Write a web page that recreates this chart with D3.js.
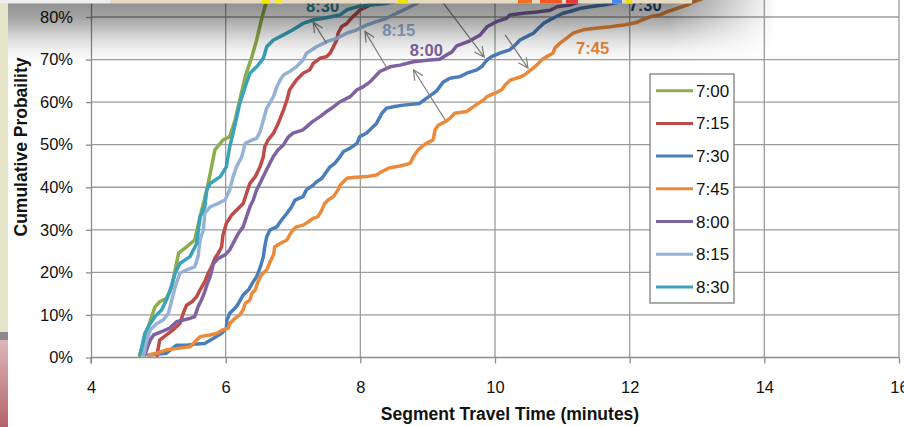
<!DOCTYPE html>
<html>
<head>
<meta charset="utf-8">
<script src="https://cdn.jsdelivr.net/npm/d3@7"></script>
<style>
  body { margin: 0; background: #fff; }
  svg { display: block; font-family: "Liberation Sans", Arial, sans-serif; }
</style>
</head>
<body>
<svg id="chart" width="904" height="427"></svg>
<script>
// series names and colours
const seriesNames = ["7:00", "7:15", "7:30", "7:45", "8:00", "8:15", "8:30"];
const seriesColors = ["#8DAE4C", "#BE4B48", "#4A7EBB", "#EC8A3C", "#7E62A1", "#95B3D7", "#3AA2BB"];

// [travel time (min), cumulative probability]
const t700 = [[4.72,0.005],[4.85,0.072],[4.95,0.119],[5.02,0.131],[5.12,0.139],[5.20,0.166],[5.30,0.245],
  [5.42,0.260],[5.54,0.276],[5.62,0.331],[5.72,0.394],[5.79,0.448],[5.84,0.488],[5.96,0.511],[6.06,0.519],
  [6.14,0.558],[6.21,0.605],[6.29,0.660],[6.39,0.707],[6.46,0.746],[6.53,0.793],[6.61,0.840],[6.75,0.90],
  [7.0,0.95],[7.5,1.0]];
const t715 = [[4.98,0.005],[5.02,0.041],[5.12,0.053],[5.22,0.065],[5.32,0.080],[5.37,0.104],[5.42,0.123],
  [5.50,0.131],[5.57,0.143],[5.62,0.159],[5.69,0.178],[5.74,0.198],[5.79,0.213],[5.84,0.233],[5.89,0.245],
  [5.94,0.260],[5.96,0.288],[6.01,0.315],[6.09,0.335],[6.16,0.346],[6.26,0.362],[6.31,0.386],[6.36,0.409],
  [6.44,0.425],[6.51,0.448],[6.56,0.472],[6.58,0.495],[6.63,0.511],[6.71,0.527],[6.78,0.550],[6.86,0.582],
  [6.91,0.605],[6.95,0.629],[7.05,0.652],[7.15,0.668],[7.25,0.676],[7.30,0.691],[7.40,0.703],[7.50,0.707],
  [7.55,0.715],[7.60,0.730],[7.65,0.746],[7.67,0.762],[7.72,0.777],[7.80,0.785],[7.89,0.801],[7.95,0.809],
  [7.99,0.816],[8.04,0.820],[8.14,0.828],[8.24,0.832],[8.35,0.845],[8.8,0.90],[9.5,0.95],[11,1.0]];
const t730 = [[4.85,0.006],[5.12,0.010],[5.27,0.029],[5.42,0.029],[5.57,0.032],[5.69,0.033],[5.82,0.045],
  [5.94,0.057],[6.01,0.069],[6.02,0.088],[6.06,0.104],[6.14,0.116],[6.19,0.127],[6.26,0.147],[6.34,0.159],
  [6.41,0.178],[6.46,0.190],[6.51,0.210],[6.56,0.237],[6.58,0.260],[6.61,0.284],[6.66,0.300],[6.76,0.307],
  [6.83,0.323],[6.91,0.339],[6.98,0.354],[7.03,0.370],[7.15,0.378],[7.20,0.394],[7.30,0.405],[7.35,0.413],
  [7.43,0.421],[7.50,0.437],[7.55,0.448],[7.62,0.456],[7.70,0.472],[7.75,0.484],[7.85,0.492],[7.95,0.503],
  [7.99,0.519],[8.09,0.527],[8.17,0.539],[8.24,0.550],[8.32,0.574],[8.39,0.586],[8.49,0.589],[8.64,0.593],
  [8.88,0.597],[8.98,0.609],[9.13,0.626],[9.23,0.647],[9.33,0.656],[9.48,0.660],[9.58,0.668],[9.73,0.676],
  [9.80,0.683],[9.88,0.699],[9.95,0.707],[10.07,0.715],[10.22,0.723],[10.30,0.734],[10.37,0.746],
  [10.47,0.754],[10.57,0.762],[10.64,0.773],[10.72,0.785],[10.86,0.797],[11.01,0.809],[11.11,0.813],
  [11.26,0.820],[11.41,0.824],[11.61,0.828],[11.81,0.834],[12.1,0.85],[13,0.90],[14,0.95],[15.5,1.0]];
const t745 = [[4.85,0.006],[4.98,0.010],[5.12,0.018],[5.32,0.022],[5.47,0.025],[5.57,0.041],[5.62,0.049],
  [5.77,0.053],[5.87,0.057],[5.96,0.065],[6.04,0.069],[6.06,0.080],[6.14,0.092],[6.21,0.100],[6.26,0.112],
  [6.29,0.127],[6.36,0.135],[6.39,0.151],[6.44,0.159],[6.48,0.178],[6.53,0.194],[6.61,0.206],[6.66,0.225],
  [6.71,0.241],[6.73,0.260],[6.81,0.268],[6.91,0.276],[6.95,0.288],[7.00,0.300],[7.05,0.307],[7.15,0.311],
  [7.23,0.319],[7.30,0.327],[7.37,0.331],[7.43,0.347],[7.47,0.362],[7.52,0.370],[7.60,0.378],[7.67,0.394],
  [7.70,0.405],[7.80,0.421],[7.89,0.423],[8.09,0.425],[8.24,0.429],[8.32,0.437],[8.44,0.446],[8.59,0.450],
  [8.74,0.456],[8.79,0.472],[8.86,0.488],[8.91,0.495],[8.98,0.503],[9.08,0.511],[9.11,0.535],[9.16,0.546],
  [9.26,0.554],[9.33,0.562],[9.40,0.574],[9.58,0.578],[9.65,0.586],[9.75,0.597],[9.83,0.605],[9.88,0.613],
  [10.00,0.621],[10.10,0.629],[10.15,0.640],[10.22,0.651],[10.37,0.659],[10.44,0.664],[10.52,0.674],
  [10.62,0.687],[10.69,0.699],[10.77,0.707],[10.86,0.715],[10.89,0.727],[10.96,0.738],[11.06,0.750],
  [11.16,0.762],[11.31,0.770],[11.46,0.773],[11.71,0.777],[11.91,0.781],[12.10,0.787],[12.18,0.793],
  [12.31,0.801],[12.45,0.805],[12.55,0.812],[12.70,0.820],[12.85,0.828],[12.95,0.836],[13.2,0.85],
  [14,0.90],[15,0.95],[16,0.98]];
const t800 = [[4.80,0.006],[4.85,0.029],[4.88,0.041],[4.93,0.053],[5.05,0.061],[5.17,0.069],[5.27,0.084],
  [5.37,0.088],[5.47,0.092],[5.54,0.096],[5.59,0.119],[5.64,0.135],[5.69,0.155],[5.72,0.170],[5.77,0.190],
  [5.82,0.221],[5.89,0.233],[5.99,0.241],[6.06,0.253],[6.11,0.268],[6.19,0.292],[6.26,0.307],[6.31,0.331],
  [6.36,0.354],[6.41,0.370],[6.46,0.394],[6.51,0.409],[6.56,0.426],[6.63,0.448],[6.71,0.473],[6.78,0.488],
  [6.86,0.500],[6.93,0.518],[7.00,0.527],[7.15,0.535],[7.20,0.542],[7.28,0.553],[7.40,0.566],[7.50,0.578],
  [7.60,0.589],[7.70,0.601],[7.85,0.613],[7.95,0.629],[8.04,0.636],[8.14,0.647],[8.29,0.672],[8.44,0.683],
  [8.59,0.687],[8.79,0.695],[9.03,0.699],[9.18,0.701],[9.28,0.711],[9.36,0.718],[9.43,0.732],[9.63,0.744],
  [9.78,0.758],[9.88,0.777],[10.02,0.789],[10.17,0.797],[10.22,0.805],[10.42,0.809],[10.62,0.812],
  [10.82,0.816],[10.92,0.824],[11.11,0.828],[11.26,0.836],[11.5,0.85],[12.5,0.90],[13.5,0.95],[15,1.0]];
const t815 = [[4.78,0.005],[4.83,0.041],[4.88,0.065],[4.98,0.080],[5.07,0.088],[5.15,0.104],[5.20,0.135],
  [5.25,0.166],[5.32,0.198],[5.42,0.206],[5.54,0.213],[5.59,0.237],[5.62,0.276],[5.67,0.300],[5.69,0.339],
  [5.77,0.354],[5.89,0.362],[5.99,0.370],[6.06,0.394],[6.11,0.425],[6.16,0.448],[6.24,0.472],[6.29,0.503],
  [6.39,0.511],[6.46,0.515],[6.51,0.530],[6.56,0.558],[6.61,0.586],[6.71,0.613],[6.76,0.636],[6.81,0.652],
  [6.86,0.664],[6.95,0.672],[7.05,0.683],[7.15,0.699],[7.20,0.715],[7.35,0.730],[7.50,0.742],[7.65,0.750],
  [7.80,0.762],[7.95,0.770],[8.09,0.781],[8.24,0.789],[8.39,0.797],[8.54,0.809],[8.69,0.820],[8.84,0.832],
  [8.95,0.845],[9.5,0.90],[10.5,0.95],[12,1.0]];
const t830 = [[4.73,0.006],[4.80,0.057],[4.85,0.072],[4.95,0.096],[5.05,0.112],[5.12,0.135],[5.17,0.155],
  [5.25,0.198],[5.32,0.221],[5.47,0.237],[5.57,0.268],[5.62,0.331],[5.69,0.354],[5.72,0.394],[5.77,0.409],
  [5.92,0.425],[6.01,0.448],[6.06,0.495],[6.11,0.527],[6.21,0.597],[6.29,0.636],[6.36,0.668],[6.46,0.683],
  [6.56,0.703],[6.61,0.730],[6.71,0.746],[6.86,0.758],[7.00,0.770],[7.15,0.785],[7.30,0.793],[7.55,0.800],
  [7.70,0.805],[7.80,0.817],[7.95,0.824],[8.14,0.828],[8.39,0.832],[8.8,0.845],[9.5,0.90],[11,0.95],[13,1.0]];
const seriesData = [t700, t715, t730, t745, t800, t815, t830];

const xTicks = [4, 6, 8, 10, 12, 14, 16];
const yTicks = [0, 0.1, 0.2, 0.3, 0.4, 0.5, 0.6, 0.7, 0.8];
const yGrid = [0.1, 0.2, 0.3, 0.4, 0.5, 0.6, 0.7, 0.8, 0.9, 1.0];

// callout labels and arrows (data units)
const labelText = ["8:30", "8:15", "8:00", "7:45", "7:30"];
const labelAt = [[7.44, 0.812], [8.57, 0.755], [8.98, 0.708], [11.45, 0.713], [12.23, 0.814]];
const labelColors = ["#31849B", "#95B3D7", "#7E62A1", "#EC8A3C", "#1F497D"];
const arrowFrom = [[7.50, 0.738], [8.41, 0.676], [9.26, 0.558], [9.14, 0.852], [10.15, 0.758]];
const arrowTo = [[7.30, 0.788], [8.07, 0.766], [8.79, 0.676], [9.84, 0.706], [10.49, 0.680]];

const svg = d3.select("#chart");
const x = d3.scaleLinear().domain([4, 16]).range([91, 899]);
const y = d3.scaleLinear().domain([0, 1]).range([357.5, -68.1]);

const defs = svg.append("defs");
const vg = defs.append("linearGradient").attr("id", "shade").attr("x1", 0).attr("y1", 0).attr("x2", 0).attr("y2", 1);
[[0, 0.45], [0.3, 0.35], [0.5, 0.22], [0.65, 0.13], [0.8, 0.06], [1, 0]].forEach(s =>
  vg.append("stop").attr("offset", s[0]).attr("stop-color", "#000").attr("stop-opacity", s[1]));
const hg = defs.append("linearGradient").attr("id", "fadeX").attr("x1", 0).attr("y1", 0).attr("x2", 1).attr("y2", 0);
hg.append("stop").attr("offset", 0.74).attr("stop-color", "#fff");
hg.append("stop").attr("offset", 0.86).attr("stop-color", "#000");
defs.append("mask").attr("id", "fadeMask").attr("maskUnits", "userSpaceOnUse")
  .attr("x", 0).attr("y", 0).attr("width", 904).attr("height", 70)
  .append("rect").attr("width", 904).attr("height", 70).attr("fill", "url(#fadeX)");
const pg = defs.append("linearGradient").attr("id", "pink").attr("x1", 0).attr("y1", 0).attr("x2", 0).attr("y2", 1);
pg.append("stop").attr("offset", 0).attr("stop-color", "#dcb8ba");
pg.append("stop").attr("offset", 1).attr("stop-color", "#b4626a");

// gridlines
svg.append("g").selectAll("line").data(yGrid).join("line")
  .attr("x1", x(4)).attr("x2", x(16)).attr("y1", d => y(d)).attr("y2", d => y(d))
  .attr("stroke", "#9c9c9c").attr("stroke-width", 1.3);
svg.append("g").selectAll("line").data(xTicks.slice(1)).join("line")
  .attr("x1", d => x(d)).attr("x2", d => x(d)).attr("y1", y(1)).attr("y2", y(0))
  .attr("stroke", "#9c9c9c").attr("stroke-width", 1.3);

// axes
const yAxis = svg.append("g").attr("transform", `translate(${x(4)},0)`)
  .call(d3.axisLeft(y).tickValues(yTicks).tickFormat(d3.format(".0%")).tickSize(5).tickSizeOuter(0).tickPadding(13));
const xAxis = svg.append("g").attr("transform", `translate(0,${y(0)})`)
  .call(d3.axisBottom(x).tickValues(xTicks).tickSize(6).tickSizeOuter(0).tickPadding(18));
[yAxis, xAxis].forEach(a => {
  a.select(".domain").attr("stroke", "#8c8c8c").attr("stroke-width", 1.3);
  a.selectAll(".tick line").attr("stroke", "#8c8c8c").attr("stroke-width", 1.3);
  a.selectAll("text").attr("font-size", 16.5).attr("fill", "#111").attr("font-family", "Liberation Sans, Arial, sans-serif");
});
xAxis.select(".domain").attr("d", `M${x(4)},0H${x(16)}`);
svg.append("line").attr("x1", x(4)).attr("x2", x(4)).attr("y1", y(0)).attr("y2", y(0) + 6)
  .attr("stroke", "#8c8c8c").attr("stroke-width", 1.3);

// axis titles
svg.append("text").attr("x", 510).attr("y", 420).attr("text-anchor", "middle")
  .attr("font-weight", "bold").attr("font-size", 17.5).attr("fill", "#111")
  .text("Segment Travel Time (minutes)");
svg.append("text").attr("transform", "translate(27,147) rotate(-90)").attr("text-anchor", "middle")
  .attr("font-weight", "bold").attr("font-size", 17.5).attr("fill", "#111")
  .text("Cumulative Probaility");

// curves
const line = d3.line().x(d => x(d[0])).y(d => y(d[1]));
svg.append("g").selectAll("path").data(seriesData).join("path")
  .attr("d", line).attr("fill", "none")
  .attr("stroke", (d, i) => seriesColors[i]).attr("stroke-width", 3.5)
  .attr("stroke-linejoin", "round").attr("stroke-linecap", "round");

// callout arrows
const arrows = svg.append("g").attr("stroke", "#7f7f7f").attr("stroke-width", 1.2).attr("fill", "none");
arrowFrom.forEach((f, i) => {
  const x0 = x(f[0]), y0 = y(f[1]), x1 = x(arrowTo[i][0]), y1 = y(arrowTo[i][1]);
  const a = Math.atan2(y1 - y0, x1 - x0), h = 11, w = 0.45;
  arrows.append("path").attr("d",
    `M${x0},${y0}L${x1},${y1}` +
    `M${x1 - h * Math.cos(a - w)},${y1 - h * Math.sin(a - w)}L${x1},${y1}` +
    `L${x1 - h * Math.cos(a + w)},${y1 - h * Math.sin(a + w)}`);
});

// callout labels
svg.append("g").selectAll("text").data(labelText).join("text")
  .attr("x", (d, i) => x(labelAt[i][0])).attr("y", (d, i) => y(labelAt[i][1]))
  .attr("text-anchor", "middle").attr("font-weight", "bold").attr("font-size", 16.5)
  .attr("fill", (d, i) => labelColors[i]).text(d => d);

// legend
const legend = svg.append("g").attr("transform", "translate(650,74)");
legend.append("rect").attr("width", 84).attr("height", 229)
  .attr("fill", "#fff").attr("stroke", "#7f7f7f").attr("stroke-width", 1.3);
const item = legend.selectAll("g").data(seriesNames).join("g")
  .attr("transform", (d, i) => `translate(0,${16.7 + i * 32.7})`);
item.append("line").attr("x1", 6).attr("x2", 43)
  .attr("stroke", (d, i) => seriesColors[i]).attr("stroke-width", 3);
item.append("text").attr("x", 46).attr("y", 6).attr("font-size", 17).attr("fill", "#111").text(d => d);

// screenshot leftovers: fade band at the top, strip at the left
svg.append("rect").attr("width", 904).attr("height", 62).attr("fill", "url(#shade)").attr("mask", "url(#fadeMask)");
svg.append("rect").attr("width", 8).attr("height", 332).attr("fill", "#e4e4c9");
svg.append("rect").attr("y", 332).attr("width", 8).attr("height", 8).attr("fill", "#8a8a8a");
svg.append("rect").attr("y", 340).attr("width", 8).attr("height", 87).attr("fill", "url(#pink)");
svg.append("rect").attr("width", 110).attr("height", 3.5).attr("fill", "#eeeeee");
svg.append("rect").attr("x", 110).attr("width", 582).attr("height", 3.5).attr("fill", "#e6dac2");
[[262, 8, "#f2e600"], [276, 6, "#f6ee20"], [398, 10, "#f0e000"], [518, 14, "#f07020"],
 [540, 22, "#f05a1e"], [566, 12, "#e83a30"], [612, 10, "#4a8af0"], [626, 6, "#f0e000"]].forEach(p =>
  svg.append("rect").attr("x", p[0]).attr("width", p[1]).attr("height", 3.5).attr("fill", p[2]));
</script>
</body>
</html>
